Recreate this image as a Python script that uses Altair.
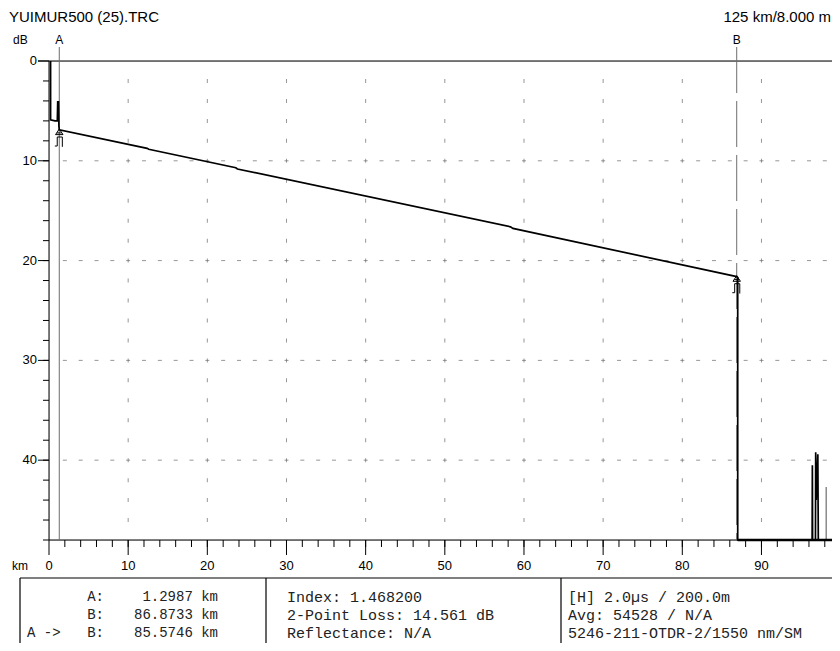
import altair as alt
import pandas as pd

# ---------------- data ----------------
title_text = "YUIMUR500 (25).TRC"
scale_text = "125 km/8.000 m"

# OTDR trace (km, dB)
trace_km = [0.2, 0.2, 0.75, 1.05, 1.10, 1.20, 1.25, 1.30,
            12.4, 12.6, 23.6, 23.8, 58.3, 58.6, 86.87, 87.0, 87.0,
            96.40, 96.43, 96.46, 96.82, 96.85, 96.92, 97.12, 97.18,
            99.15, 99.20, 99.30, 99.50, 99.60, 99.70, 99.80]
trace_db = [0.0, 5.9, 6.0, 6.0, 4.1, 4.1, 6.5, 6.9,
            8.75, 8.85, 10.70, 10.82, 16.62, 16.78, 21.6, 21.7, 48.0,
            48.0, 40.5, 48.0, 48.0, 39.2, 44.0, 39.4, 48.0,
            48.0, 38.5, 47.0, 37.0, 48.0, 36.7, 40.0]

gray_spike_km = [98.18, 99.35]
gray_spike_top = [42.7, 43.6]

floor_km = [87.0, 99.8]

cursor_names = ["A", "B"]
cursor_km = [1.2987, 86.8733]
cursor_db = [6.9, 21.6]

x_minor = list(range(2, 100, 2))
x_major = list(range(0, 100, 10))
y_minor = list(range(2, 49, 2))
y_major = [0, 10, 20, 30, 40]
grid_x = [10, 20, 30, 40, 50, 60, 70, 80, 90]
grid_y = [10, 20, 30, 40]

table_labels = ["A:", "B:", "B:"]
table_prefix = ["", "", "A ->"]
table_values = ["1.2987 km", "86.8733 km", "85.5746 km"]
table_col2 = ["Index: 1.468200", "2-Point Loss: 14.561 dB", "Reflectance: N/A"]
table_col3 = ["[H] 2.0\u00b5s / 200.0m", "Avg: 54528 / N/A", "5246-211-OTDR-2/1550 nm/SM"]

# ---------------- layout ----------------
W, H = 783, 479
X_MAX = 98.91
SANS = "Liberation Sans"
MONO = "Liberation Mono"

xs = alt.Scale(domain=[0, X_MAX], nice=False, zero=False)
ys = alt.Scale(domain=[0, 48], nice=False, zero=False, reverse=True)


def X(f):
    return alt.X(f, type="quantitative", scale=xs, axis=None)


def Y(f):
    return alt.Y(f, type="quantitative", scale=ys, axis=None)


layers = []

# grid dashes
gv = pd.DataFrame([(gx, gy) for gx in grid_x for gy in y_minor if gy < 48], columns=["x", "y"])
layers.append(alt.Chart(gv).mark_tick(orient="vertical", size=4, thickness=1, color="#6a6a6a")
              .encode(x=X("x"), y=Y("y")))
gh = pd.DataFrame([(gx, gy) for gy in grid_y for gx in x_minor if gx < X_MAX], columns=["x", "y"])
layers.append(alt.Chart(gh).mark_tick(orient="horizontal", size=4, thickness=1, color="#6a6a6a")
              .encode(x=X("x"), y=Y("y")))

one = pd.DataFrame({"t": [""]})

# frame lines
layers.append(alt.Chart(one).mark_rule(color="black", strokeWidth=1)
              .encode(x=alt.value(0), y=alt.value(0), y2=alt.value(H)))
layers.append(alt.Chart(one).mark_rule(color="black", strokeWidth=1)
              .encode(x=alt.value(-11), x2=alt.value(W), y=alt.value(0)))
layers.append(alt.Chart(one).mark_rule(color="black", strokeWidth=1)
              .encode(x=alt.value(0), x2=alt.value(W), y=alt.value(H)))

# y ticks and labels
layers.append(alt.Chart(pd.DataFrame({"y": y_minor})).mark_rule(color="black", strokeWidth=1)
              .encode(y=Y("y"), x=alt.value(-6), x2=alt.value(0)))
ymaj = pd.DataFrame({"y": y_major, "t": [str(v) for v in y_major]})
layers.append(alt.Chart(ymaj).mark_rule(color="black", strokeWidth=1)
              .encode(y=Y("y"), x=alt.value(-11), x2=alt.value(0)))
layers.append(alt.Chart(ymaj).mark_text(align="right", baseline="middle", font=SANS, fontSize=13, color="black")
              .encode(y=Y("y"), x=alt.value(-12), text="t:N"))

# x ticks and labels
layers.append(alt.Chart(pd.DataFrame({"x": [v for v in x_minor if v < X_MAX]}))
              .mark_rule(color="black", strokeWidth=1)
              .encode(x=X("x"), y=alt.value(H), y2=alt.value(H + 7)))
xmaj = pd.DataFrame({"x": x_major, "t": [str(v) for v in x_major]})
layers.append(alt.Chart(xmaj).mark_rule(color="black", strokeWidth=1)
              .encode(x=X("x"), y=alt.value(H), y2=alt.value(H + 15)))
layers.append(alt.Chart(xmaj).mark_text(align="center", baseline="middle", font=SANS, fontSize=13, color="black")
              .encode(x=X("x"), y=alt.value(H + 26), text="t:N"))

# cursors
cur = pd.DataFrame({"name": cursor_names, "km": cursor_km, "db": cursor_db})
layers.append(alt.Chart(cur.iloc[[0]]).mark_rule(color="#6e6e6e", strokeWidth=1)
              .encode(x=X("km"), y=alt.value(-14), y2=alt.value(H)))
layers.append(alt.Chart(cur.iloc[[1]]).mark_rule(color="#6e6e6e", strokeWidth=1, strokeDash=[46, 8])
              .encode(x=X("km"), y=alt.value(-14), y2=alt.value(H)))
layers.append(alt.Chart(cur).mark_text(align="center", baseline="middle", font=SANS, fontSize=12, color="black")
              .encode(x=X("km"), y=alt.value(-21), text="name:N"))

# trace
tr = pd.DataFrame({"km": trace_km, "db": trace_db, "i": list(range(len(trace_km)))})
layers.append(alt.Chart(tr).mark_line(color="black", strokeWidth=1.7)
              .encode(x=X("km"), y=Y("db"), order="i:Q"))
gs = pd.DataFrame({"km": gray_spike_km, "top": gray_spike_top, "bottom": [48.0] * len(gray_spike_km)})
layers.append(alt.Chart(gs).mark_rule(color="#8a8a8a", strokeWidth=1.5)
              .encode(x=X("km"), y=Y("top"), y2="bottom:Q"))
fl = pd.DataFrame({"a": [floor_km[0]], "b": [floor_km[1]], "y": [48.0]})
layers.append(alt.Chart(fl).mark_rule(color="black", strokeWidth=2.6)
              .encode(x=X("a"), x2="b:Q", y=Y("y")))

# cursor glyphs on the trace
glyph = ("M0,-0.05 L-0.22,0.28 L0.22,0.28 Z M-0.14,0.18 L0.14,0.18 "
         "M-0.12,0.95 L-0.12,0.42 L0.18,0.42 L0.18,1 M-0.26,0.95 L-0.12,0.95")
layers.append(alt.Chart(cur).mark_point(shape=glyph, size=1156, filled=False, color="black",
                                        strokeWidth=1, opacity=1)
              .encode(x=X("km"), y=Y("db")))

# header texts
layers.append(alt.Chart(pd.DataFrame({"t": [title_text]}))
              .mark_text(align="left", baseline="top", font=SANS, fontSize=15, color="black")
              .encode(x=alt.value(-40), y=alt.value(-51), text="t:N"))
layers.append(alt.Chart(pd.DataFrame({"t": [scale_text]}))
              .mark_text(align="right", baseline="top", font=SANS, fontSize=15, color="black")
              .encode(x=alt.value(W - 1), y=alt.value(-51), text="t:N"))
layers.append(alt.Chart(pd.DataFrame({"t": ["dB"]}))
              .mark_text(align="left", baseline="middle", font=SANS, fontSize=12, color="black")
              .encode(x=alt.value(-36), y=alt.value(-21), text="t:N"))
layers.append(alt.Chart(pd.DataFrame({"t": ["km"]}))
              .mark_text(align="left", baseline="middle", font=SANS, fontSize=12, color="black")
              .encode(x=alt.value(-37), y=alt.value(H + 26), text="t:N"))

# info table
BOX_TOP = 517
BOTTOM = 582
layers.append(alt.Chart(one).mark_rule(color="black", strokeWidth=1.2)
              .encode(x=alt.value(-29), x2=alt.value(W), y=alt.value(BOX_TOP)))
for vx in [-29, 217, 512]:
    layers.append(alt.Chart(one).mark_rule(color="black", strokeWidth=1.2)
                  .encode(x=alt.value(vx), y=alt.value(BOX_TOP), y2=alt.value(BOTTOM)))

row_y = [536, 554, 572]
for k in range(3):
    items = [(table_labels[k], 55, "right", 14), (table_values[k], 169, "right", 14),
             (table_col2[k], 238, "left", 15), (table_col3[k], 519, "left", 15)]
    if table_prefix[k]:
        items.append((table_prefix[k], -22, "left", 14))
    for txt, xpos, al, fs in items:
        layers.append(alt.Chart(pd.DataFrame({"t": [txt]}))
                      .mark_text(align=al, baseline="middle", font=MONO, fontSize=fs, color="#222222")
                      .encode(x=alt.value(xpos), y=alt.value(row_y[k]), text="t:N"))

chart = (alt.layer(*layers)
         .properties(width=W, height=H,
                     padding={"left": 41, "top": 53, "right": 0, "bottom": 103},
                     autosize=alt.AutoSizeParams(type="none"))
         .configure_view(strokeWidth=0)
         .configure(background="white"))

chart.save("out.html", embed_options={"renderer": "svg", "actions": False})
